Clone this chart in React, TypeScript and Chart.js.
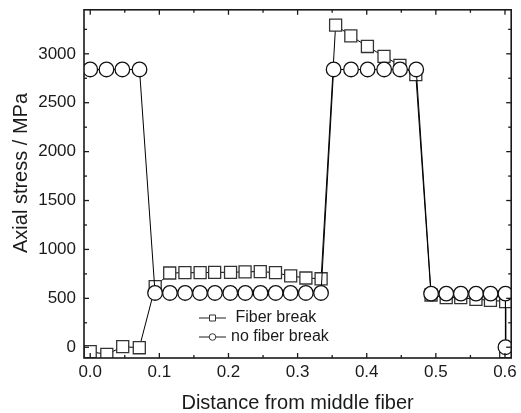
import React, { useEffect, useRef } from "react";
import { Chart, registerables } from "chart.js";

Chart.register(...registerables);

// ---- data ----
const fiberBreakX = [
  0, 0.024, 0.047, 0.071,
  0.094, 0.115, 0.137, 0.159, 0.18, 0.203, 0.224, 0.246, 0.268, 0.29, 0.312, 0.334,
  0.355, 0.377, 0.401, 0.425, 0.448, 0.471,
  0.493, 0.515, 0.536, 0.558, 0.579, 0.601, 0.601,
];
const fiberBreakY = [
  -45, -73, 6, -5,
  620, 759, 762, 762, 766, 766, 771, 774, 762, 729, 708, 700,
  3294, 3183, 3075, 2974, 2882, 2787,
  534, 507, 507, 490, 480, 467, -45,
];
const noBreakX = [
  0, 0.0235, 0.0465, 0.0713,
  0.0938, 0.1153, 0.1373, 0.1588, 0.1804, 0.2026, 0.2244, 0.2464, 0.2683, 0.2898, 0.3119, 0.3339,
  0.3521, 0.3773, 0.4013, 0.4252, 0.4482, 0.4716,
  0.4931, 0.5151, 0.5362, 0.5581, 0.5792, 0.6007, 0.6007,
];
const noBreakY = [
  2840, 2840, 2840, 2840,
  555, 555, 555, 555, 555, 555, 555, 555, 555, 555, 555, 555,
  2840, 2840, 2840, 2840, 2840, 2840,
  548, 548, 548, 548, 548, 548, 0,
];
const seriesLabels = [" Fiber break", "no fiber break"];
const xTicks = [0, 0.1, 0.2, 0.3, 0.4, 0.5, 0.6];
const xMinorTicks = [0.05, 0.15, 0.25, 0.35, 0.45, 0.55];
const yTicks = [0, 500, 1000, 1500, 2000, 2500, 3000];
const yMinorTicks = [250, 750, 1250, 1750, 2250, 2750, 3250];
const xTitle = "Distance from middle fiber";
const yTitle = "Axial stress / MPa";

const FONT = '"Liberation Sans", Arial, Helvetica, sans-serif';
const INK = "#1a1a1a";

const framePlugin = {
  id: "framePlugin",
  afterDraw(chart: any) {
    const { ctx, chartArea } = chart;
    const { left, right, top, bottom } = chartArea;
    const xs = chart.scales.x;
    const ys = chart.scales.y;
    ctx.save();
    // frame
    ctx.strokeStyle = INK;
    ctx.lineWidth = 1.6;
    ctx.strokeRect(left, top, right - left, bottom - top);
    // ticks (inward)
    ctx.lineWidth = 1.3;
    const tick = (x1: number, y1: number, x2: number, y2: number) => {
      ctx.beginPath();
      ctx.moveTo(x1, y1);
      ctx.lineTo(x2, y2);
      ctx.stroke();
    };
    xTicks.forEach((v) => {
      const p = xs.getPixelForValue(v);
      tick(p, bottom, p, bottom - 5);
      tick(p, top, p, top + 5);
    });
    xMinorTicks.forEach((v) => {
      const p = xs.getPixelForValue(v);
      tick(p, bottom, p, bottom - 3);
      tick(p, top, p, top + 3);
    });
    yTicks.forEach((v) => {
      const p = ys.getPixelForValue(v);
      tick(left, p, left + 5, p);
      tick(right, p, right - 5, p);
    });
    yMinorTicks.forEach((v) => {
      const p = ys.getPixelForValue(v);
      tick(left, p, left + 3, p);
      tick(right, p, right - 3, p);
    });

    // legend
    const rows = [
      { y: 318, style: "rect", text: seriesLabels[0] },
      { y: 337, style: "circle", text: seriesLabels[1] },
    ];
    rows.forEach((r) => {
      ctx.strokeStyle = "#444";
      ctx.lineWidth = 1.2;
      ctx.beginPath();
      ctx.moveTo(199, r.y);
      ctx.lineTo(226, r.y);
      ctx.stroke();
      ctx.fillStyle = "#fff";
      ctx.strokeStyle = "#333";
      ctx.lineWidth = 1;
      ctx.beginPath();
      if (r.style === "rect") {
        ctx.rect(209.5, r.y - 3, 6, 6);
      } else {
        ctx.arc(212.5, r.y, 3.3, 0, Math.PI * 2);
      }
      ctx.fill();
      ctx.stroke();
      ctx.fillStyle = INK;
      ctx.font = `16px ${FONT}`;
      ctx.textAlign = "left";
      ctx.textBaseline = "middle";
      ctx.fillText(r.text, 231, r.y);
    });

    // y title
    ctx.translate(21.5, 173);
    ctx.rotate(-Math.PI / 2);
    ctx.fillStyle = INK;
    ctx.font = `20px ${FONT}`;
    ctx.textAlign = "center";
    ctx.textBaseline = "middle";
    ctx.fillText(yTitle, 0, 0);
    ctx.restore();
  },
};

export default function App() {
  const ref = useRef<HTMLCanvasElement | null>(null);
  useEffect(() => {
    if (!ref.current) return;
    Chart.defaults.font.family = FONT;
    const chart = new Chart(ref.current, {
      type: "line",
      data: {
        datasets: [
          {
            label: seriesLabels[0],
            data: fiberBreakX.map((x, i) => ({ x, y: fiberBreakY[i] })),
            borderColor: "#000",
            borderWidth: 1,
            pointStyle: "rect",
            pointRadius: 8.5,
            pointBorderWidth: 1.3,
            pointBorderColor: "#333",
            pointBackgroundColor: "#fff",
            tension: 0,
            clip: 0,
            order: 1,
          },
          {
            label: seriesLabels[1],
            data: noBreakX.map((x, i) => ({ x, y: noBreakY[i] })),
            borderColor: "#000",
            borderWidth: 1,
            pointStyle: "circle",
            pointRadius: 7.3,
            pointBorderWidth: 1.3,
            pointBorderColor: "#111",
            pointBackgroundColor: "#fff",
            tension: 0,
            clip: 0,
            order: 0,
          },
        ],
      },
      options: {
        responsive: false,
        animation: false,
        layout: { padding: { left: 0, right: 6, top: 7, bottom: 0 } },
        plugins: { legend: { display: false }, tooltip: { enabled: false } },
        scales: {
          x: {
            type: "linear",
            min: -0.009,
            max: 0.609,
            afterBuildTicks: (s: any) => {
              s.ticks = xTicks.map((v) => ({ value: v }));
            },
            afterFit: (s: any) => {
              s.height = 55;
              s.paddingLeft = 0;
              s.paddingRight = 0;
            },
            grid: { display: false, drawTicks: false },
            border: { display: false },
            ticks: {
              autoSkip: false,
              maxRotation: 0,
              padding: 4,
              color: INK,
              font: { size: 17, family: FONT },
              callback: (v: any) => Number(v).toFixed(1),
            },
            title: {
              display: true,
              text: xTitle,
              color: INK,
              font: { size: 20, family: FONT, lineHeight: 1 },
              padding: 0,
            },
          },
          y: {
            type: "linear",
            min: -110,
            max: 3450,
            afterBuildTicks: (s: any) => {
              s.ticks = yTicks.map((v) => ({ value: v }));
            },
            afterFit: (s: any) => {
              s.width = 84;
              s.paddingTop = 0;
              s.paddingBottom = 0;
            },
            grid: { display: false, drawTicks: false },
            border: { display: false },
            ticks: {
              autoSkip: false,
              padding: 8,
              color: INK,
              font: { size: 17, family: FONT },
              callback: (v: any) => String(v),
            },
            title: { display: false },
          },
        },
      },
      plugins: [framePlugin],
    } as any);
    return () => chart.destroy();
  }, []);
  return (
    <div style={{ position: "absolute", left: 0, top: 0, width: 521, height: 413 }}>
      <canvas ref={ref} width={521} height={413} style={{ display: "block" }} />
    </div>
  );
}
